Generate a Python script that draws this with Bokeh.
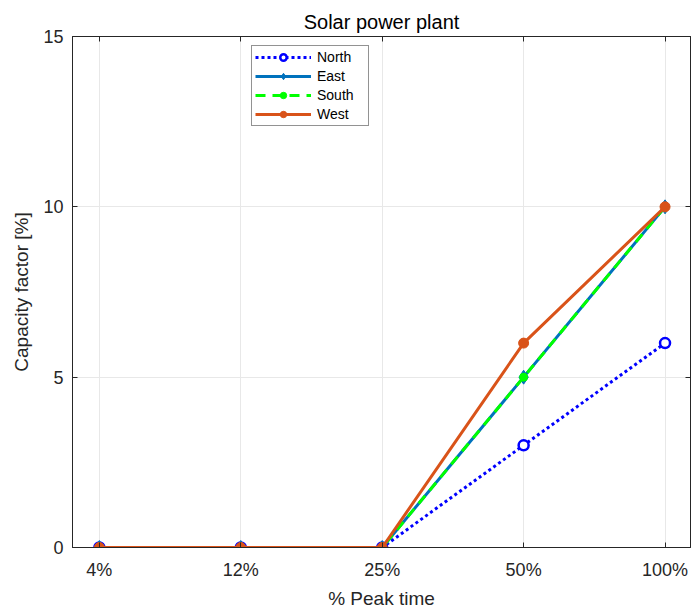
from bokeh.plotting import figure
from bokeh.models import (Range1d, FixedTicker, LinearAxis, Legend, LegendItem)
from bokeh.embed import file_html
from bokeh.resources import INLINE

categories = ["4%", "12%", "25%", "50%", "100%"]
north = [0, 0, 0, 3, 6]
east = [0, 0, 0, 5, 10]
south = [0, 0, 0, 5, 10]
west = [0, 0, 0, 6, 10]
y_ticks = [0, 5, 10, 15]

xs = list(range(len(categories)))
FONT = "Liberation Sans"
AX = "#262626"

p = figure(width=691, height=611, output_backend="svg", toolbar_location=None,
           x_range=Range1d(-0.19, 4.18), y_range=Range1d(0, 15),
           min_border_left=72, min_border_right=1, min_border_top=36, min_border_bottom=64)

p.title.text = "Solar power plant"
p.title.align = "center"
p.title.text_font = FONT
p.title.text_font_size = "20px"
p.title.text_font_style = "normal"
p.title.text_color = "#000000"
p.title.offset = 0
p.title.standoff = 8

p.outline_line_color = AX
p.outline_line_width = 1
p.background_fill_color = "white"
p.border_fill_color = "white"

p.xaxis.ticker = FixedTicker(ticks=xs)
p.xaxis.major_label_overrides = {i: c for i, c in zip(xs, categories)}
p.yaxis.ticker = FixedTicker(ticks=y_ticks)
p.xaxis.axis_label = "% Peak time"
p.yaxis.axis_label = "Capacity factor [%]"

for ax in [p.xaxis[0], p.yaxis[0]]:
    ax.axis_line_color = AX
    ax.major_tick_line_color = AX
    ax.major_tick_in = 5
    ax.major_tick_out = 0
    ax.minor_tick_line_color = None
    ax.major_label_text_font = FONT
    ax.major_label_text_font_size = "18px"
    ax.major_label_text_color = AX
    ax.axis_label_text_font = FONT
    ax.axis_label_text_font_size = "19px"
    ax.axis_label_text_font_style = "normal"
    ax.axis_label_text_color = AX

p.xaxis.major_label_standoff = 12
p.xaxis.axis_label_standoff = 5
p.yaxis.major_label_standoff = 9
p.yaxis.axis_label_standoff = 8

# box-style extra axes (ticks only, no labels)
top = LinearAxis(ticker=FixedTicker(ticks=xs), major_label_overrides={i: "" for i in xs},
                 major_tick_in=5, major_tick_out=0, minor_tick_line_color=None,
                 major_label_standoff=0,
                 axis_line_color=AX, major_tick_line_color=AX)
right = LinearAxis(ticker=FixedTicker(ticks=y_ticks), major_label_overrides={t: "" for t in y_ticks},
                   major_tick_in=5, major_tick_out=0, minor_tick_line_color=None,
                   major_label_standoff=0,
                   axis_line_color=AX, major_tick_line_color=AX)
p.add_layout(top, "above")
p.add_layout(right, "right")

p.xgrid.ticker = FixedTicker(ticks=xs)
p.ygrid.ticker = FixedTicker(ticks=y_ticks)
p.grid.grid_line_color = "#e8e8e8"
p.grid.grid_line_width = 1

items = []
# North
l1 = p.line(xs, north, line_color="#0000FF", line_width=3, line_dash="3 3")
m1 = p.scatter(xs, north, marker="circle", size=10, line_color="#0000FF",
               line_width=2.5, fill_color="white")
items.append(LegendItem(label="North", renderers=[l1, m1]))
# East
l2 = p.line(xs, east, line_color="#0072BD", line_width=3)
m2 = p.scatter(xs, east, marker="diamond", size=14, line_color="#0072BD",
               fill_color="#0072BD")
items.append(LegendItem(label="East", renderers=[l2, m2]))
# South
l3 = p.line(xs, south, line_color="#00FF00", line_width=3, line_dash="10 7")
m3 = p.scatter(xs, south, marker="circle", size=8, line_color="#00FF00",
               fill_color="#00FF00")
items.append(LegendItem(label="South", renderers=[l3, m3]))
# West
l4 = p.line(xs, west, line_color="#D95319", line_width=3)
m4 = p.scatter(xs, west, marker="circle", size=10, line_color="#D95319",
               fill_color="#D95319")
items.append(LegendItem(label="West", renderers=[l4, m4]))

legend = Legend(items=items, location=(179, 421))
legend.label_text_font = FONT
legend.label_text_font_size = "14px"
legend.label_text_color = "#000000"
legend.glyph_width = 56
legend.glyph_height = 16
legend.label_height = 16
legend.label_width = 48
legend.label_standoff = 6
legend.spacing = 3
legend.padding = 3
legend.margin = 0
legend.border_line_color = AX
legend.border_line_width = 1
legend.background_fill_color = "white"
legend.background_fill_alpha = 1
p.add_layout(legend, "center")

open("out.html", "w").write(file_html(p, INLINE))
